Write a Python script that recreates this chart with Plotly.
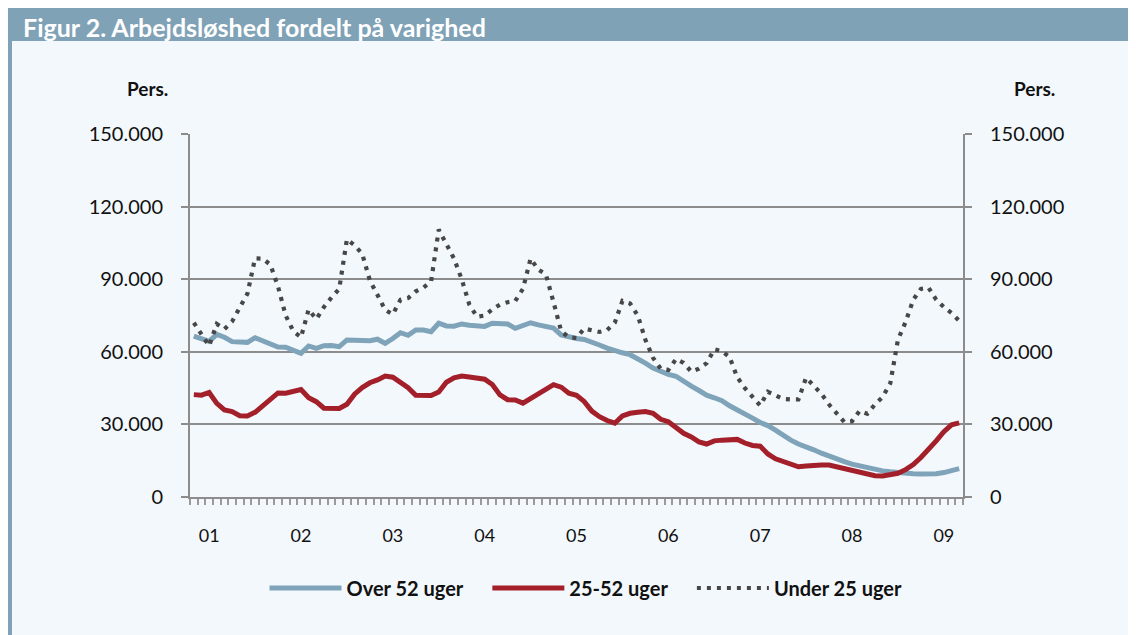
import plotly.graph_objects as go

# Monthly data, Nov 2000 - Mar 2009 (101 months)
x_labels = ["01", "02", "03", "04", "05", "06", "07", "08", "09"]
label_pos = [2, 14, 26, 38, 50, 62, 74, 86, 98]

over_52 = [66.5, 65.5, 64.3, 67.2, 66.0, 64.2, 64.0, 63.9, 65.8, 64.4, 63.2, 62.0,
           61.9, 60.6, 59.4, 62.4, 61.4, 62.5, 62.6, 62.1, 64.9, 64.8, 64.7, 64.6,
           65.2, 63.5, 65.5, 67.9, 66.8, 69.0, 69.0, 68.3, 71.8, 70.7, 70.6, 71.5,
           71.0, 70.8, 70.5, 71.8, 71.6, 71.5, 69.7, 70.8, 72.0, 71.1, 70.5, 69.8,
           67.0, 66.0, 65.5, 65.1, 64.2, 62.8, 61.5, 60.4, 59.6, 58.8, 57.2, 55.3,
           53.3, 51.8, 50.7, 49.9, 47.6, 45.8, 44.0, 42.1, 41.0, 39.8, 37.7, 35.8,
           34.2, 32.6, 30.8, 29.5, 27.6, 25.4, 23.5, 21.9, 20.9, 19.5, 18.1, 16.8,
           15.6, 14.6, 13.6, 12.8, 11.9, 11.3, 10.8, 10.4, 10.0, 9.8, 9.6, 9.5,
           9.5, 9.6, 10.1, 10.8, 11.7]

w25_52 = [42.3, 42.1, 43.2, 38.7, 36.0, 35.3, 33.6, 33.5, 35.0, 37.8, 40.5, 43.0,
          42.9, 43.5, 44.4, 41.0, 39.4, 36.7, 36.5, 36.6, 38.3, 42.5, 45.2, 47.2,
          48.4, 50.0, 49.5, 47.5, 45.2, 42.0, 41.8, 41.9, 43.4, 47.4, 49.2, 50.0,
          49.6, 49.2, 48.7, 46.5, 42.2, 40.2, 40.1, 38.8, 40.8, 42.5, 44.3, 46.4,
          45.4, 42.9, 42.0, 39.5, 35.5, 33.2, 31.6, 30.5, 33.5, 34.6, 35.0, 35.3,
          34.6, 32.1, 31.1, 28.7, 26.3, 24.8, 22.8, 21.9, 23.2, 23.5, 23.6, 23.8,
          22.3, 21.3, 21.0, 17.8, 15.8, 14.7, 13.4, 12.5, 12.8, 13.2, 13.2, 13.2,
          12.5, 11.8, 11.1, 10.5, 9.5, 8.8, 8.7, 9.0, 9.8, 11.3, 13.4, 16.3,
          19.5, 23.2, 27.0, 29.8, 30.6]

under_25 = [72.0, 67.0, 62.5, 71.5, 69.4, 72.5, 78.5, 84.0, 98.6, 98.5, 96.0, 87.0,
            75.0, 68.5, 66.0, 77.5, 73.5, 78.5, 82.5, 86.0, 106.5, 104.0, 100.5, 89.5,
            83.5, 77.3, 75.5, 81.5, 82.2, 85.0, 86.5, 89.0, 110.5, 104.3, 98.5, 90.0,
            79.5, 74.5, 75.0, 77.5, 79.5, 80.5, 81.0, 86.0, 98.5, 94.0, 92.0, 80.5,
            68.5, 66.0, 65.7, 69.6, 68.8, 68.2, 69.0, 72.0, 81.0, 80.0, 75.0, 65.0,
            57.5, 53.0, 52.5, 57.0, 55.4, 51.8, 53.0, 55.3, 61.0, 60.3, 57.8, 49.5,
            45.0, 41.6, 37.8, 43.5, 42.0, 40.5, 40.3, 40.3, 49.3, 46.2, 42.6, 38.2,
            34.5, 31.0, 31.3, 35.6, 34.4, 38.3, 41.3, 47.0, 65.0, 72.3, 81.5, 86.0,
            86.5, 81.5, 78.5, 76.0, 72.8]

series_names = ["Over 52 uger", "25-52 uger", "Under 25 uger"]

n = len(over_52)
idx = list(range(n))
scale = 1000
month_edges = [i - 0.5 for i in range(n + 1)]

# page is offset by the 8px body margin; helpers take page pixel coordinates
OFF = 8
W, H = 1136 - OFF, 635 - OFF
PL, PR, PT, PB = 190 - OFF, 963 - OFF, 134 - OFF, 497 - OFF
def px(x):
    return (x - OFF - PL) / (PR - PL)
def py(y):
    return (PB - (y - OFF)) / (PB - PT)

FONT = "Lato"
GRID = "#8c8c8c"
BG = "#f3f8fc"
BAR = "#7fa2b7"
PAD = "\u00a0" * 4

fig = go.Figure()
fig.add_trace(go.Scatter(x=idx, y=[v * scale for v in over_52], name=series_names[0] + PAD,
                         mode="lines", line=dict(color="#7fa3b9", width=5)))
fig.add_trace(go.Scatter(x=idx, y=[v * scale for v in w25_52], name=series_names[1] + PAD,
                         mode="lines", line=dict(color="#a3202a", width=5)))
fig.add_trace(go.Scatter(x=idx, y=[v * scale for v in under_25], name=series_names[2],
                         mode="lines", line=dict(color="#474747", width=4.2, dash="4px,6px")))
# invisible trace carrying the label x-axis and the right y-axis
fig.add_trace(go.Scatter(x=[idx[0]], y=[0], xaxis="x2", yaxis="y2", showlegend=False,
                         mode="markers", marker=dict(opacity=0), hoverinfo="skip"))

shapes = [
    dict(type="rect", xref="paper", yref="paper", x0=px(8), x1=px(1136), y0=py(41), y1=py(8),
         fillcolor=BAR, line=dict(width=0), layer="below"),
    dict(type="rect", xref="paper", yref="paper", x0=px(8), x1=px(12), y0=py(635), y1=py(41),
         fillcolor=BAR, line=dict(width=0), layer="below"),
]

annotations = [
    dict(text="<b>Figur 2. Arbejdsløshed fordelt på varighed</b>", xref="paper", yref="paper",
         x=px(21), y=py(27.5), xanchor="left", yanchor="middle", showarrow=False,
         font=dict(family=FONT, size=25, color="white")),
    dict(text="<b>Pers.</b>", xref="paper", yref="paper", x=px(147), y=py(88),
         xanchor="center", yanchor="middle", showarrow=False,
         font=dict(family=FONT, size=19, color="#111")),
    dict(text="<b>Pers.</b>", xref="paper", yref="paper", x=px(1034), y=py(88),
         xanchor="center", yanchor="middle", showarrow=False,
         font=dict(family=FONT, size=19, color="#111")),
]

yaxis_common = dict(range=[0, 150000], dtick=30000, tickformat=",d", zeroline=False,
                    showline=True, linecolor=GRID, linewidth=2, ticks="outside", ticklen=7,
                    tickcolor=GRID, tickwidth=2, ticklabelstandoff=14,
                    tickfont=dict(family=FONT, size=20, color="#111"))

fig.update_layout(
    width=W, height=H, autosize=False,
    margin=dict(l=PL, r=W - PR, t=PT, b=H - PB),
    paper_bgcolor=BG, plot_bgcolor=BG,
    separators=",.",
    shapes=shapes, annotations=annotations,
    font=dict(family=FONT, size=18, color="#111"),
    showlegend=True,
    legend=dict(orientation="h", x=px(586), xanchor="center", y=py(588), yanchor="middle",
                font=dict(family=FONT, size=20, color="#111", weight="bold"),
                bgcolor="rgba(0,0,0,0)", itemwidth=72, tracegroupgap=0),
    xaxis=dict(range=[-0.5, n - 0.5], tickvals=month_edges, ticktext=[""] * len(month_edges),
               ticks="outside", ticklen=6, tickwidth=1.5, tickcolor="#9a9a9a",
               showgrid=False, zeroline=False, showline=True, linecolor=GRID, linewidth=2),
    xaxis2=dict(range=[-0.5, n - 0.5], overlaying="x", side="bottom", anchor="y",
                tickvals=label_pos, ticktext=x_labels, ticks="", showgrid=False,
                zeroline=False, showline=False, ticklabelstandoff=26,
                tickfont=dict(family=FONT, size=18, color="#111")),
    yaxis=dict(showgrid=True, gridcolor=GRID, gridwidth=2, **yaxis_common),
    yaxis2=dict(overlaying="y", side="right", anchor="x", showgrid=False, **yaxis_common),
)

fig.write_html("out.html")
